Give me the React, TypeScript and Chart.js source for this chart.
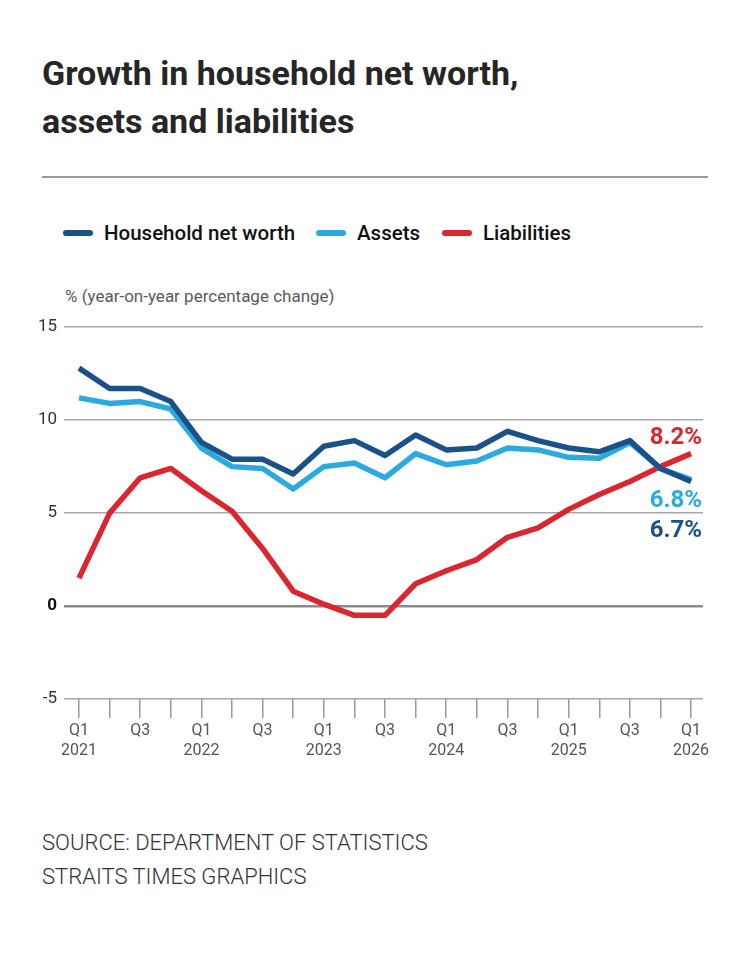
import { useEffect, useRef } from 'react';
import { Chart, registerables } from 'chart.js';

Chart.register(...registerables);

const quarters = [
  'Q1 2021', 'Q2 2021', 'Q3 2021', 'Q4 2021',
  'Q1 2022', 'Q2 2022', 'Q3 2022', 'Q4 2022',
  'Q1 2023', 'Q2 2023', 'Q3 2023', 'Q4 2023',
  'Q1 2024', 'Q2 2024', 'Q3 2024', 'Q4 2024',
  'Q1 2025', 'Q2 2025', 'Q3 2025', 'Q4 2025',
  'Q1 2026',
];

const tickLabels: string[][] = [
  ['Q1', '2021'], [], ['Q3'], [],
  ['Q1', '2022'], [], ['Q3'], [],
  ['Q1', '2023'], [], ['Q3'], [],
  ['Q1', '2024'], [], ['Q3'], [],
  ['Q1', '2025'], [], ['Q3'], [],
  ['Q1', '2026'],
];

const netWorth = [12.8, 11.7, 11.7, 11.0, 8.8, 7.9, 7.9, 7.1, 8.6, 8.9, 8.1, 9.2, 8.4, 8.5, 9.4, 8.9, 8.5, 8.3, 8.9, 7.4, 6.7];
const assets = [11.2, 10.9, 11.0, 10.6, 8.5, 7.5, 7.4, 6.3, 7.5, 7.7, 6.9, 8.2, 7.6, 7.8, 8.5, 8.4, 8.0, 7.95, 8.8, 7.4, 6.8];
const liabilities = [1.5, 5.0, 6.9, 7.4, 6.2, 5.1, 3.1, 0.8, 0.1, -0.5, -0.5, 1.2, 1.9, 2.5, 3.7, 4.2, 5.2, 6.0, 6.7, 7.5, 8.2];

const seriesNames = ['Household net worth', 'Assets', 'Liabilities'];
const endLabels = ['6.7%', '6.8%', '8.2%'];
const yTicks = [-5, 0, 5, 10, 15];

const DARK = '#1b5189';
const LIGHT = '#2aaae0';
const RED = '#db2630';
const colors = [DARK, LIGHT, RED];

const FONT = 'Roboto, "Noto Sans", sans-serif';

// vertical offset of each end label from its series' last point
const labelOffsets = [50, 21, -16];

const endLabelPlugin = {
  id: 'endLabels',
  afterDatasetsDraw(chart: Chart) {
    const { ctx, chartArea, scales } = chart;
    ctx.save();
    ctx.font = `bold 24px ${FONT}`;
    ctx.textAlign = 'right';
    ctx.textBaseline = 'middle';
    chart.data.datasets.forEach((ds, i) => {
      const pts = ds.data as { x: number; y: number }[];
      const last = pts[pts.length - 1];
      ctx.fillStyle = colors[i];
      ctx.fillText(endLabels[i], chartArea.right - 1, scales.y.getPixelForValue(last.y) + labelOffsets[i]);
    });
    ctx.restore();
  },
};

function LineChart() {
  const canvasRef = useRef<HTMLCanvasElement>(null);
  const chartRef = useRef<Chart | null>(null);

  useEffect(() => {
    if (!canvasRef.current) return;
    const series = [netWorth, assets, liabilities];

    chartRef.current = new Chart(canvasRef.current, {
      type: 'line',
      data: {
        datasets: series.map((values, i) => ({
          label: seriesNames[i],
          data: values.map((y, x) => ({ x, y })),
          borderColor: colors[i],
          backgroundColor: colors[i],
          borderWidth: 5.5,
          borderJoinStyle: 'round' as const,
          pointRadius: 0,
          tension: 0,
        })),
      },
      options: {
        animation: false,
        responsive: true,
        maintainAspectRatio: false,
        layout: { padding: { top: 14, right: 47, left: 0, bottom: 0 } },
        plugins: { legend: { display: false }, tooltip: { enabled: false } },
        scales: {
          x: {
            type: 'linear',
            min: -0.49,
            max: 20.39,
            afterBuildTicks: (axis: any) => {
              axis.ticks = quarters.map((_, i) => ({ value: i }));
            },
            afterFit: (axis: any) => {
              axis.height = 81;
            },
            ticks: {
              autoSkip: false,
              maxRotation: 0,
              padding: 3,
              color: '#555',
              font: { family: FONT, size: 16, lineHeight: 1.25 },
              callback: (v: any) => tickLabels[v] ?? '',
            },
            grid: { drawOnChartArea: false, drawTicks: true, tickLength: 19, color: '#999', lineWidth: 1.5 },
            border: { display: false },
          },
          y: {
            min: -5,
            max: 15,
            afterBuildTicks: (axis: any) => {
              axis.ticks = yTicks.map((value) => ({ value }));
            },
            afterFit: (axis: any) => {
              axis.width = 64;
            },
            ticks: {
              padding: 7,
              color: (c: any) => (c.tick?.value === 0 ? '#111' : '#333'),
              font: (c: any) => ({ family: FONT, size: 17, weight: c.tick?.value === 0 ? 'bold' : 'normal' }),
            },
            grid: {
              drawTicks: false,
              color: (c: any) => (c.tick?.value === 0 ? '#8a8a8a' : '#a8a8a8'),
              lineWidth: (c: any) => (c.tick?.value === 0 ? 2.5 : 1.5),
            },
            border: { display: false },
          },
        },
      },
      plugins: [endLabelPlugin],
    });

    return () => {
      chartRef.current?.destroy();
    };
  }, []);

  return (
    <div style={{ position: 'absolute', left: 0, top: 310, width: 750, height: 470 }}>
      <canvas ref={canvasRef} />
    </div>
  );
}

const legendLefts = [63, 316, 442];

export default function App() {
  return (
    <div
      style={{
        position: 'absolute',
        left: 0,
        top: 0,
        width: 750,
        height: 954,
        background: '#fff',
        fontFamily: FONT,
        color: '#222',
      }}
    >
      <div
        style={{
          position: 'absolute',
          left: 42,
          top: 49,
          fontSize: 34,
          fontWeight: 700,
          lineHeight: '48px',
          color: '#262626',
        }}
      >
        Growth in household net worth,
        <br />
        assets and liabilities
      </div>
      <div style={{ position: 'absolute', left: 42, top: 176, width: 666, height: 1.5, background: '#9a9a9a' }} />
      {seriesNames.map((name, i) => (
        <div
          key={name}
          style={{ position: 'absolute', left: legendLefts[i], top: 221, height: 24, display: 'flex', alignItems: 'center' }}
        >
          <span style={{ display: 'inline-block', width: 30, height: 6, borderRadius: 3, background: colors[i], marginRight: 11 }} />
          <span style={{ fontSize: 20.5, fontWeight: 500, color: '#111' }}>{name}</span>
        </div>
      ))}
      <div style={{ position: 'absolute', left: 65, top: 286, fontSize: 17, lineHeight: '20px', color: '#5a5a5a' }}>
        % (year-on-year percentage change)
      </div>
      <LineChart />
      <div
        style={{
          position: 'absolute',
          left: 42,
          top: 826,
          fontSize: 22,
          fontWeight: 300,
          lineHeight: '34px',
          color: '#333',
        }}
      >
        SOURCE: DEPARTMENT OF STATISTICS
        <br />
        STRAITS TIMES GRAPHICS
      </div>
    </div>
  );
}
